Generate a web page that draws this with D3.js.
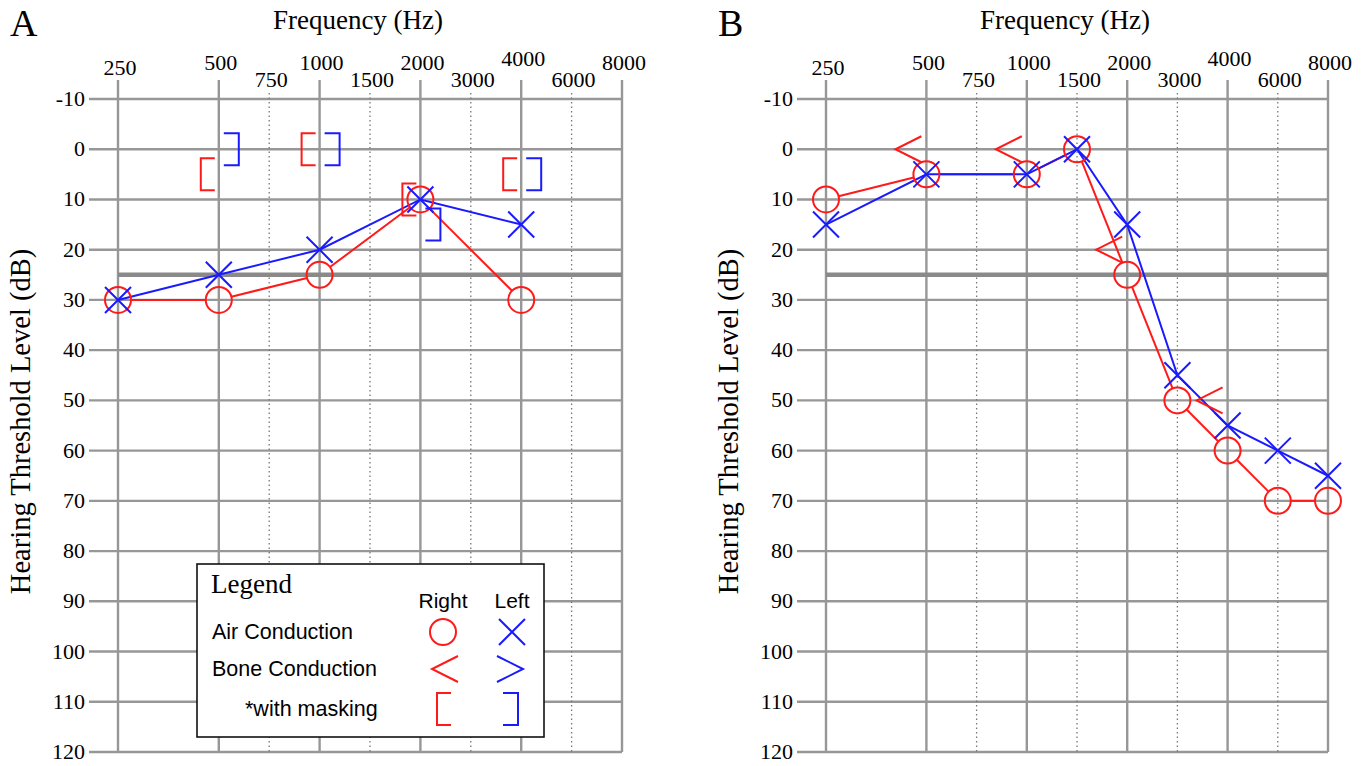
<!DOCTYPE html>
<html>
<head>
<meta charset="utf-8">
<script src="https://cdn.jsdelivr.net/npm/d3@7"></script>
<style>
  body { margin: 0; background: #fff; }
  svg { display: block; }
</style>
</head>
<body>
<div id="chart"></div>
<script>
// Two audiograms side by side (A and B)

// tick labels on the frequency axis and where they sit on the octave grid
const freqLabels = [250, 500, 750, 1000, 1500, 2000, 3000, 4000, 6000, 8000];
const freqSteps  = [0, 1, 1.5, 2, 2.5, 3, 3.5, 4, 4.5, 5];
const octaveFreqs = [250, 500, 1000, 2000, 4000, 8000];
const midFreqs = [750, 1500, 3000, 6000];
const dbTicks = [-10, 0, 10, 20, 30, 40, 50, 60, 70, 80, 90, 100, 110, 120];
const normalLimit = 25;

// panel A
const aFreqs = [250, 500, 1000, 2000, 4000];
const aRightAir = [30, 30, 25, 10, 30];
const aLeftAir = [30, 25, 20, 10, 15];
const aMaskFreqs = [500, 1000, 2000, 4000];
const aRightMasked = [5, 0, 10, 5];
const aLeftMasked = [0, 0, 15, 5];

// panel B
const bFreqs = [250, 500, 1000, 1500, 2000, 3000, 4000, 6000, 8000];
const bRightAir = [10, 5, 5, 0, 25, 50, 60, 70, 70];
const bLeftAir = [15, 5, 5, 0, 15, 45, 55, 60, 65];
const bBoneFreqs = [500, 1000, 2000, 4000];
const bRightBone = [0, 0, 20, 50];

const RED = "#ff1a1a", BLUE = "#1a1aff", GRID = "#979797";
const serif = "'Liberation Serif', 'Times New Roman', serif";
const sans = "'Liberation Sans', Arial, sans-serif";

// marker shapes, relative to the point
const crossPath = "M-13,-13L13,13M13,-13L-13,13";
const boneRightPath = "M-5,-13L-31,0L-5,13";
const boneLeftPath = "M5,-13L31,0L5,13";
const maskRightPath = "M-4,-16H-18V16H-4";
const maskLeftPath = "M5,-16H20V16H5";
const R = 13;

const svg = d3.select("#chart").append("svg")
    .attr("width", 1372)
    .attr("height", 766);

const step = d3.scaleOrdinal().domain(freqLabels).range(freqSteps);

function drawPanel(left, right, letter) {
  const x = d3.scaleLinear().domain([0, 5]).range([left, right]);
  const fx = f => x(step(f));
  const y = d3.scaleLinear().domain([-10, 120]).range([99, 752]);

  const g = svg.append("g");

  // horizontal grid
  g.selectAll(".hgrid")
    .data(dbTicks)
    .join("line")
      .attr("x1", left - 29)
      .attr("x2", right)
      .attr("y1", d => y(d))
      .attr("y2", d => y(d))
      .style("stroke", GRID)
      .style("stroke-width", 2.4);

  // vertical octave lines
  g.selectAll(".vgrid")
    .data(octaveFreqs)
    .join("line")
      .attr("x1", d => fx(d))
      .attr("x2", d => fx(d))
      .attr("y1", 80)
      .attr("y2", y(120))
      .style("stroke", GRID)
      .style("stroke-width", 2.4);

  // dotted mid-octave lines
  g.selectAll(".mgrid")
    .data(midFreqs)
    .join("line")
      .attr("x1", d => fx(d))
      .attr("x2", d => fx(d))
      .attr("y1", 93)
      .attr("y2", y(120))
      .style("stroke", "#777")
      .style("stroke-width", 1.3)
      .style("stroke-dasharray", "1.5,3");

  // 25 dB line
  g.append("line")
    .attr("x1", left)
    .attr("x2", right)
    .attr("y1", y(normalLimit))
    .attr("y2", y(normalLimit))
    .style("stroke", "#8a8a8a")
    .style("stroke-width", 4.5);

  // y tick labels
  g.selectAll(".ylab")
    .data(dbTicks)
    .join("text")
      .attr("x", left - 33)
      .attr("y", d => y(d) + 7)
      .attr("text-anchor", "end")
      .style("font-family", serif)
      .style("font-size", "22px")
      .text(d => d);

  // frequency tick labels (staggered)
  const labY = {250: 75, 500: 70, 1000: 70, 2000: 70, 4000: 66, 8000: 70};
  g.selectAll(".xlab")
    .data(freqLabels)
    .join("text")
      .attr("x", d => fx(d) + 2)
      .attr("y", d => labY[d] || 87)
      .attr("text-anchor", "middle")
      .style("font-family", serif)
      .style("font-size", "22px")
      .text(d => d);

  // titles
  g.append("text")
    .attr("x", (left + right) / 2 - 12)
    .attr("y", 29)
    .attr("text-anchor", "middle")
    .style("font-family", serif)
    .style("font-size", "27px")
    .text("Frequency (Hz)");

  g.append("text")
    .attr("x", left - 108)
    .attr("y", 36)
    .style("font-family", serif)
    .style("font-size", "38px")
    .text(letter);

  g.append("text")
    .attr("transform", `translate(${left - 88},${(y(-10) + y(120)) / 2 - 4}) rotate(-90)`)
    .attr("text-anchor", "middle")
    .style("font-family", serif)
    .style("font-size", "28.5px")
    .text("Hearing Threshold Level (dB)");

  return {g, fx, y};
}

// air conduction: red line stops at circle edges, blue runs through centres
function drawAir(p, freqs, rightVals, leftVals) {
  const rpts = freqs.map((f, i) => [p.fx(f), p.y(rightVals[i])]);
  const lpts = freqs.map((f, i) => [p.fx(f), p.y(leftVals[i])]);

  const segs = d3.pairs(rpts).map(([a, b]) => {
    const dx = b[0] - a[0], dy = b[1] - a[1];
    const len = Math.sqrt(dx * dx + dy * dy);
    const ux = dx / len, uy = dy / len;
    return [a[0] + ux * R, a[1] + uy * R, b[0] - ux * R, b[1] - uy * R];
  });
  p.g.selectAll(".rseg")
    .data(segs)
    .join("line")
      .attr("x1", d => d[0]).attr("y1", d => d[1])
      .attr("x2", d => d[2]).attr("y2", d => d[3])
      .style("stroke", RED)
      .style("stroke-width", 2);

  p.g.append("path")
    .datum(lpts)
    .attr("d", d3.line())
    .style("fill", "none")
    .style("stroke", BLUE)
    .style("stroke-width", 2);

  p.g.selectAll(".rair")
    .data(rpts)
    .join("circle")
      .attr("cx", d => d[0])
      .attr("cy", d => d[1])
      .attr("r", R)
      .style("fill", "none")
      .style("stroke", RED)
      .style("stroke-width", 2);

  p.g.selectAll(".lair")
    .data(lpts)
    .join("path")
      .attr("transform", d => `translate(${d[0]},${d[1]})`)
      .attr("d", crossPath)
      .style("fill", "none")
      .style("stroke", BLUE)
      .style("stroke-width", 2);
}

function drawSymbols(p, freqs, vals, shape, color) {
  p.g.selectAll(null)
    .data(freqs.map((f, i) => [p.fx(f), p.y(vals[i])]))
    .join("path")
      .attr("transform", d => `translate(${d[0]},${d[1]})`)
      .attr("d", shape)
      .style("fill", "none")
      .style("stroke", color)
      .style("stroke-width", 2);
}

// ---- panel A
const pA = drawPanel(118, 622, "A");

// legend
const leg = pA.g.append("g");
leg.append("rect")
  .attr("x", 197).attr("y", 564)
  .attr("width", 347).attr("height", 173)
  .style("fill", "#fff")
  .style("stroke", "#111")
  .style("stroke-width", 1.6);
leg.append("text")
  .attr("x", 211).attr("y", 593)
  .style("font-family", serif)
  .style("font-size", "27px")
  .text("Legend");
[["Right", 443], ["Left", 512]].forEach(([t, cx]) => {
  leg.append("text")
    .attr("x", cx).attr("y", 608)
    .attr("text-anchor", "middle")
    .style("font-family", sans)
    .style("font-size", "21px")
    .text(t);
});
[["Air Conduction", 212, 639], ["Bone Conduction", 212, 676], ["*with masking", 245, 716]].forEach(([t, lx, ly]) => {
  leg.append("text")
    .attr("x", lx).attr("y", ly)
    .style("font-family", sans)
    .style("font-size", "21.5px")
    .text(t);
});
leg.append("circle")
  .attr("cx", 443).attr("cy", 632).attr("r", R)
  .style("fill", "none").style("stroke", RED).style("stroke-width", 2);
[[crossPath, 512, 632, BLUE], [boneRightPath, 463, 669, RED], [boneLeftPath, 492, 669, BLUE],
 [maskRightPath, 455, 709, RED], [maskLeftPath, 498, 709, BLUE]].forEach(([d, tx, ty, c]) => {
  leg.append("path")
    .attr("transform", `translate(${tx},${ty})`)
    .attr("d", d)
    .style("fill", "none").style("stroke", c).style("stroke-width", 2);
});

drawAir(pA, aFreqs, aRightAir, aLeftAir);
drawSymbols(pA, aMaskFreqs, aRightMasked, maskRightPath, RED);
drawSymbols(pA, aMaskFreqs, aLeftMasked, maskLeftPath, BLUE);

// ---- panel B
const pB = drawPanel(826, 1328, "B");
drawAir(pB, bFreqs, bRightAir, bLeftAir);
drawSymbols(pB, bBoneFreqs, bRightBone, boneRightPath, RED);
</script>
</body>
</html>
